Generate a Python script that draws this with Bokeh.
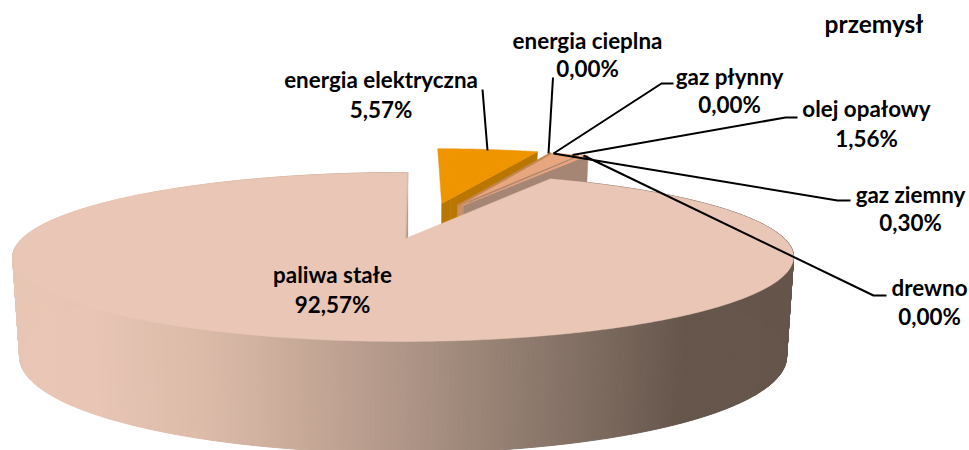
import math
from bokeh.plotting import figure
from bokeh.models import Range1d
from bokeh.core.properties import value
from bokeh.embed import file_html
from bokeh.resources import INLINE

# ---- data
title = "przemysł"
categories = ["energia elektryczna", "energia cieplna", "gaz płynny", "olej opałowy",
              "gaz ziemny", "drewno", "paliwa stałe"]
shares = [5.57, 0.00, 0.00, 1.56, 0.30, 0.00, 92.57]

# ---- style / layout (reference pixel frame)
top_colors = ["#EE9500", "#EE9500", "#E8A67E", "#E8A67E", "#E8A67E", "#E8A67E", "#E9C6B5"]
wall_colors = ["#B97700", "#B97700", "#A58573", "#A58573", "#A58573", "#A58573", "#E9C6B5"]
wall_near = ["#B97700", "#B97700", "#C98F68", "#C98F68", "#C98F68", "#C98F68", "#E9C6B5"]
near_share = [0.08, 0.08, 0.08, 0.08, 0.01, 0.08, 0.08]
explode = [(0.105, 0.48), (0.15, 0.45), (0.15, 0.45), (0.15, 0.45), (0.165, 0.45), (0.15, 0.45), (0.0, 0.0)]
START = math.radians(0.4)
AX, AY, R, B, K, M = 405.0, 238.0, 381.0, 80.4, 0.219, 0.006
XC, H, KD, SHRINK = 402.5, 97.0, 0.13, 0.982
grad_x = [12, 90, 200, 300, 400, 480, 600, 685, 800]
grad_c = [(0xE9, 0xC6, 0xB5), (0xE8, 0xC5, 0xB4), (0xDC, 0xBB, 0xA9), (0xC8, 0xA9, 0x98),
          (0xB0, 0x96, 0x88), (0x9A, 0x85, 0x77), (0x7D, 0x6A, 0x5F), (0x65, 0x55, 0x4B), (0x65, 0x55, 0x4B)]
FONT = "Lato"
FS = "22.4px"
TEXT_DY = -9

label_pos = {  # centre x, baselines of the two lines
    "energia elektryczna": (380.5, 88, 118),
    "energia cieplna": (587, 49, 77),
    "gaz płynny": (729, 85, 113),
    "olej opałowy": (866, 117, 147),
    "gaz ziemny": (910, 203, 231),
    "drewno": (929, 296, 325),
    "paliwa stałe": (332, 283, 313),
}
leaders = [
    ([487, 482], [150, 89]),
    ([548, 552.5], [153, 77]),
    ([553, 661, 673], [153, 83, 83]),
    ([572, 785, 797], [154.5, 117, 117]),
    ([553, 837, 850], [153, 200, 200]),
    ([583, 873, 886], [155, 295, 295]),
]


def project(u, v):
    w = 1 + K * v + M * u
    return AX + R * u / w, AY - B * v / w


def lowered(u, v):
    x, y = project(u, v)
    return XC + (x - XC) * SHRINK, y + H / (1 + KD * v)


def grad(x):
    x = max(grad_x[0], min(grad_x[-1], x))
    for i in range(len(grad_x) - 1):
        if x <= grad_x[i + 1]:
            t = (x - grad_x[i]) / (grad_x[i + 1] - grad_x[i])
            c = [round(a + (b - a) * t) for a, b in zip(grad_c[i], grad_c[i + 1])]
            return "#%02X%02X%02X" % tuple(c)


p = figure(width=969, height=450, x_range=Range1d(0, 969), y_range=Range1d(450, 0),
           output_backend="svg", toolbar_location=None, min_border=0,
           background_fill_color="white", border_fill_color="white", outline_line_color=None)
p.xaxis.visible = False
p.yaxis.visible = False
p.grid.visible = False

total = sum(shares)
angles = [START]
for s in shares:
    angles.append(angles[-1] + s / total * 2 * math.pi)

for i, s in enumerate(shares):
    if s <= 0:
        continue
    a0, a1 = angles[i], angles[i + 1]
    du, dv = explode[i]
    n = max(8, int((a1 - a0) / (2 * math.pi) * 720))
    rim = [(du + math.sin(a0 + (a1 - a0) * j / n), dv + math.cos(a0 + (a1 - a0) * j / n)) for j in range(n + 1)]
    big = s > 50
    if big:
        xs, ys, cs = [], [], []
        for (u0, v0), (u1, v1) in zip(rim[:-1], rim[1:]):
            x0, y0 = project(u0, v0)
            x1, y1 = project(u1, v1)
            x2, y2 = lowered(u1, v1)
            x3, y3 = lowered(u0, v0)
            xs.append([x0, x1, x2, x3])
            ys.append([y0, y1, y2, y3])
            cs.append(grad((x0 + x1) / 2))
        p.patches(xs, ys, fill_color=cs, line_color=cs, line_width=1.0)
    else:
        ue, ve = rim[-1]
        for t0, t1, col in [(0.0, near_share[i], wall_near[i]), (near_share[i], 1.0, wall_colors[i])]:
            ua, va = du + (ue - du) * t0, dv + (ve - dv) * t0
            ub, vb = du + (ue - du) * t1, dv + (ve - dv) * t1
            pts = [project(ua, va), project(ub, vb), lowered(ub, vb), lowered(ua, va)]
            p.patch([q[0] for q in pts], [q[1] for q in pts], fill_color=col, line_color=col, line_width=0.5)
    pts = [project(du, dv)] + [project(u, v) for u, v in rim]
    p.patch([q[0] for q in pts], [q[1] for q in pts], fill_color=top_colors[i], line_color=top_colors[i], line_width=0.5)
    if categories[i] == "olej opałowy":
        e = [project(du, dv), project(*rim[0])]
        p.line([q[0] for q in e], [q[1] for q in e], line_color="#C4854F", line_width=2.2)
    if big:
        e = [project(du, dv), project(du + math.sin(START), dv + math.cos(START))]
        p.line([q[0] for q in e], [q[1] for q in e], line_color="#D9BFAF", line_width=1.5)

for lx, ly in leaders:
    p.line(lx, ly, line_color="black", line_width=2)

tx, ty, tt = [], [], []
for c, s in zip(categories, shares):
    cx, b1, b2 = label_pos[c]
    tx += [cx, cx]
    ty += [b1 + TEXT_DY, b2 + TEXT_DY]
    tt += [c, f"{s:.2f}".replace(".", ",") + "%"]
p.text(tx, ty, text=tt, text_font=value(FONT), text_font_style="bold", text_font_size=FS,
       text_align="center", text_baseline="alphabetic", text_color="black")
p.text([873.5], [32 + TEXT_DY], text=[title], text_font=value(FONT), text_font_style="bold", text_font_size="24.5px",
       text_align="center", text_baseline="alphabetic", text_color="black")

open("out.html", "w").write(file_html(p, INLINE))
